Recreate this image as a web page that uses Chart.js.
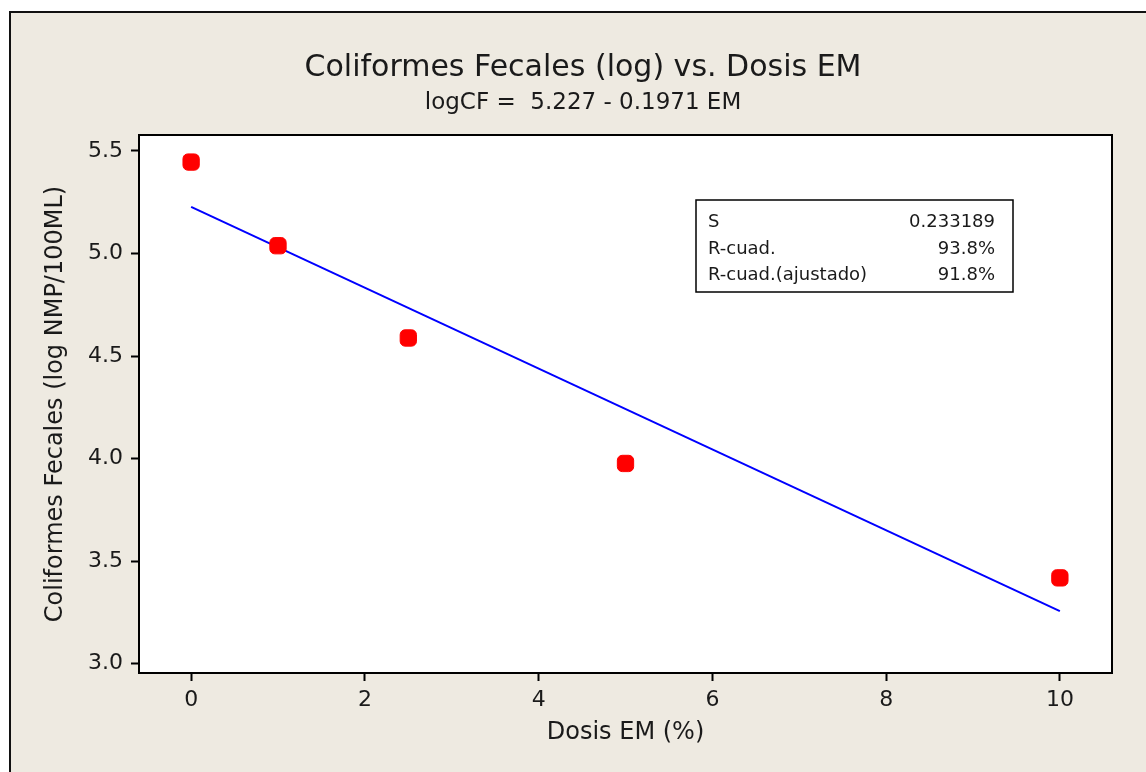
<!DOCTYPE html>
<html>
<head>
<meta charset="utf-8">
<title>Coliformes Fecales vs. Dosis EM</title>
<script src="https://cdn.jsdelivr.net/npm/chart.js@4.4.1/dist/chart.umd.min.js"></script>
<style>
  html, body { margin: 0; padding: 0; background: #ffffff; overflow: hidden; }
  #frame {
    position: absolute; left: 9px; top: 11px; width: 1200px; height: 800px;
    background: #eeeae1; border-left: 2px solid #111; border-top: 2px solid #111;
  }
  #plot { position: absolute; left: 0; top: 0; }
</style>
</head>
<body>
<div id="frame"></div>
<canvas id="plot" width="1146" height="772"></canvas>
<script>
// dosis EM (%) y log de coliformes fecales
const doseEM = [0, 1, 2.5, 5, 10];
const logCF = [5.446, 5.038, 4.588, 3.976, 3.418];

// recta ajustada: logCF = 5.227 - 0.1971 EM, en sus extremos
const fitX = [0, 10];
const fitY = [5.227, 3.256];

// marcas de los ejes
const xTickValues = [0, 2, 4, 6, 8, 10];
const yTickValues = [3.0, 3.5, 4.0, 4.5, 5.0, 5.5];

const statLabels = ["S", "R-cuad.", "R-cuad.(ajustado)"];
const statValues = ["0.233189", "93.8%", "91.8%"];

const titleText = "Coliformes Fecales (log) vs. Dosis EM";
const subtitleText = "logCF =  5.227 - 0.1971 EM";

const FONT = "'DejaVu Sans', sans-serif";
const INK = "#1a1a1a";

const plotFrame = {
    id: "plotFrame",
    beforeDraw(chart) {
        const ca = chart.chartArea;
        const ctx = chart.ctx;
        ctx.save();
        ctx.fillStyle = "#ffffff";
        ctx.fillRect(ca.left, ca.top, ca.right - ca.left, ca.bottom - ca.top);
        ctx.restore();
    },
    afterDraw(chart) {
        const ca = chart.chartArea;
        const ctx = chart.ctx;
        ctx.save();
        ctx.strokeStyle = "#000";
        ctx.lineWidth = 2;
        ctx.strokeRect(ca.left, ca.top, ca.right - ca.left, ca.bottom - ca.top);

        // titulo y ecuacion
        ctx.fillStyle = INK;
        ctx.textAlign = "center";
        ctx.textBaseline = "alphabetic";
        ctx.font = "30px " + FONT;
        ctx.fillText(titleText, 583, 76);
        ctx.font = "23px " + FONT;
        ctx.fillText(subtitleText, 583, 109);

        // cuadro de estadisticos
        const bx = ca.right - 416, by = ca.top + 65, bw = 317, bh = 92;
        ctx.fillStyle = "#ffffff";
        ctx.fillRect(bx, by, bw, bh);
        ctx.strokeStyle = "#000";
        ctx.lineWidth = 1.5;
        ctx.strokeRect(bx, by, bw, bh);
        ctx.fillStyle = INK;
        ctx.font = "18px " + FONT;
        for (let i = 0; i < statLabels.length; i++) {
            const yy = by + 27 + i * 26.5;
            ctx.textAlign = "left";
            ctx.fillText(statLabels[i], bx + 12, yy);
            ctx.textAlign = "right";
            ctx.fillText(statValues[i], bx + bw - 18, yy);
        }
        ctx.restore();
    }
};

new Chart(document.getElementById("plot"), {
    type: "scatter",
    data: {
        datasets: [
            {
                label: "Ajuste",
                type: "line",
                data: fitX.map((x, i) => ({ x: x, y: fitY[i] })),
                borderColor: "#0000ff",
                borderWidth: 2,
                pointRadius: 0,
                fill: false,
                order: 2
            },
            {
                label: "Datos",
                data: doseEM.map((x, i) => ({ x: x, y: logCF[i] })),
                backgroundColor: "#ff0000",
                borderColor: "#ff0000",
                pointStyle: "rectRounded",
                pointRadius: 9.5,
                pointHoverRadius: 9.5,
                order: 1
            }
        ]
    },
    options: {
        responsive: false,
        animation: false,
        layout: { padding: { left: 0, top: 135, right: 34, bottom: 0 } },
        plugins: {
            legend: { display: false },
            title: { display: false },
            tooltip: { enabled: false }
        },
        scales: {
            x: {
                type: "linear",
                min: -0.6,
                max: 10.6,
                bounds: "data",
                afterBuildTicks: (scale) => { scale.ticks = xTickValues.map(v => ({ value: v })); },
                afterFit: (scale) => { scale.height = 99; },
                border: { display: false },
                grid: { drawOnChartArea: false, tickLength: 8, tickWidth: 2, tickColor: "#000" },
                ticks: {
                    padding: 6,
                    color: INK,
                    font: { family: FONT, size: 22 }
                },
                title: {
                    display: true,
                    text: "Dosis EM (%)",
                    color: INK,
                    font: { family: FONT, size: 24 },
                    padding: { top: 0, bottom: 25 }
                }
            },
            y: {
                type: "linear",
                min: 2.954,
                max: 5.578,
                bounds: "data",
                afterBuildTicks: (scale) => { scale.ticks = yTickValues.map(v => ({ value: v })); },
                afterFit: (scale) => { scale.width = 139; },
                border: { display: false },
                grid: { drawOnChartArea: false, tickLength: 8, tickWidth: 2, tickColor: "#000" },
                ticks: {
                    padding: 8,
                    color: INK,
                    font: { family: FONT, size: 22 },
                    callback: (v) => v.toFixed(1)
                },
                title: {
                    display: true,
                    text: "Coliformes Fecales (log NMP/100ML)",
                    color: INK,
                    font: { family: FONT, size: 24 },
                    padding: { top: 41, bottom: 0 }
                }
            }
        }
    },
    plugins: [plotFrame]
});
</script>
</body>
</html>
